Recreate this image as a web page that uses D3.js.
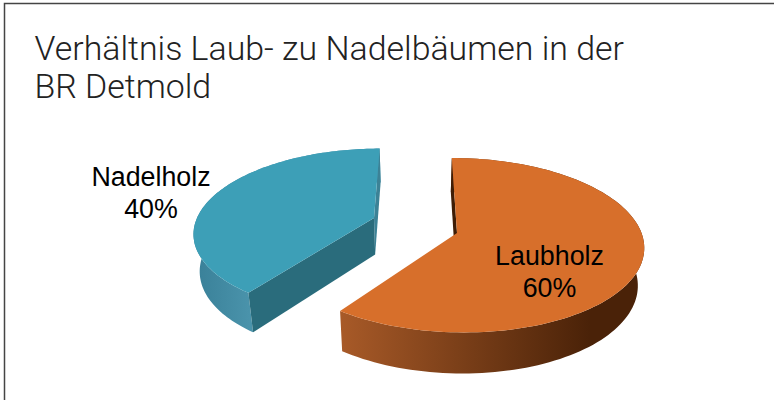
<!DOCTYPE html>
<html><head><meta charset="utf-8">
<script src="https://cdn.jsdelivr.net/npm/d3@7"></script>
<style>html,body{margin:0;padding:0;background:#fff}svg{display:block}</style>
</head><body><div id="c"></div>
<script>
const titleLines = ["Verhältnis Laub- zu Nadelbäumen in der", "BR Detmold"];
const categories = ["Laubholz", "Nadelholz"];
const values = [60, 40];
const percentLabels = ["60%", "40%"];
const topColors = ["#d76f2b", "#3d9fb7"];
const wallFrom = ["#a85a28", "#3a8199"];
const wallTo = ["#4a2208", "#4a93ab"];
const cutColors = ["#3f1d06", "#2a6c7c"];
const sliverColors = ["#3f1d06", "#3c8296"];

const W = 774, H = 400;
const svg = d3.select("#c").append("svg").attr("width", W).attr("height", H);
const defs = svg.append("defs");

svg.append("path").attr("d", `M4.5,${H} V3.5 H${W}`).attr("fill", "none").attr("stroke", "#444").attr("stroke-width", 1.5);

const title = svg.append("text").attr("font-family", "Roboto, sans-serif").attr("font-weight", 300)
  .attr("font-size", 33.9).attr("fill", "#222");
titleLines.forEach((t, i) => title.append("tspan").attr("x", 34.5).attr("y", 60 + i * 38).text(t));

// d3.pie gives the slice angles; each slice is then laid on a tilted disc in perspective.
const pie = d3.pie().sort(null);
const arcs = pie(values);
const vanishX = 415;
const discs = [
  {cx: 457, cy: 233, rx: 184.5, ry: 85.5, k: 0.14},
  {cx: 374, cy: 218, rx: 177, ry: 80.5, k: 0.16}
];
const proj = (disc, r, a) => {
  const u = r * Math.sin(a), v = r * Math.cos(a), s = 1 + disc.k * v;
  return [vanishX + (disc.cx - vanishX + disc.rx * u) / s, disc.cy - disc.ry * v / s];
};
const lower = ([x, y]) => [x + (vanishX - x) * 0.028, y + 36.5 + (y - 218) * 0.04];
const line = d3.line();

const labelPos = [[549.5, 265, 297], [151, 186, 218]];
const group = svg.append("g");
[1, 0].forEach(i => {
  const d = arcs[i], disc = discs[i];
  const angles = d3.range(0, 121).map(t => d.startAngle + (d.endAngle - d.startAngle) * t / 120);
  const rim = angles.map(a => proj(disc, 1, a));
  const apex = proj(disc, 0, 0);
  const g = group.append("g");
  const gid = "wall" + i;
  const grad = defs.append("linearGradient").attr("id", gid).attr("gradientUnits", "userSpaceOnUse")
    .attr("x1", i === 0 ? 340 : 198).attr("x2", i === 0 ? 590 : 250).attr("y1", 0).attr("y2", 0);
  grad.append("stop").attr("offset", 0).attr("stop-color", wallFrom[i]);
  grad.append("stop").attr("offset", 1).attr("stop-color", wallTo[i]);

  g.append("path").attr("d", line(rim.concat(rim.map(lower).reverse())) + "Z").attr("fill", `url(#${gid})`);
  const backCorner = i === 0 ? rim[0] : rim[rim.length - 1];
  g.append("path").attr("d", line([backCorner, apex, lower(apex), lower(backCorner)]) + "Z").attr("fill", sliverColors[i]);
  if (i === 1) {
    const front = rim[0];
    g.append("path").attr("d", line([apex, front, lower(front), lower(apex)]) + "Z").attr("fill", cutColors[i]);
  }
  g.append("path").attr("d", line([apex].concat(rim)) + "Z").attr("fill", topColors[i]);
});

categories.forEach((c, i) => {
  const t = svg.append("text").attr("font-family", "'Liberation Sans', Arial, sans-serif").attr("font-size", 26.8)
    .attr("fill", "#000").attr("text-anchor", "middle");
  t.append("tspan").attr("x", labelPos[i][0]).attr("y", labelPos[i][1]).text(c);
  t.append("tspan").attr("x", labelPos[i][0]).attr("y", labelPos[i][2]).text(percentLabels[i]);
});
</script></body></html>
